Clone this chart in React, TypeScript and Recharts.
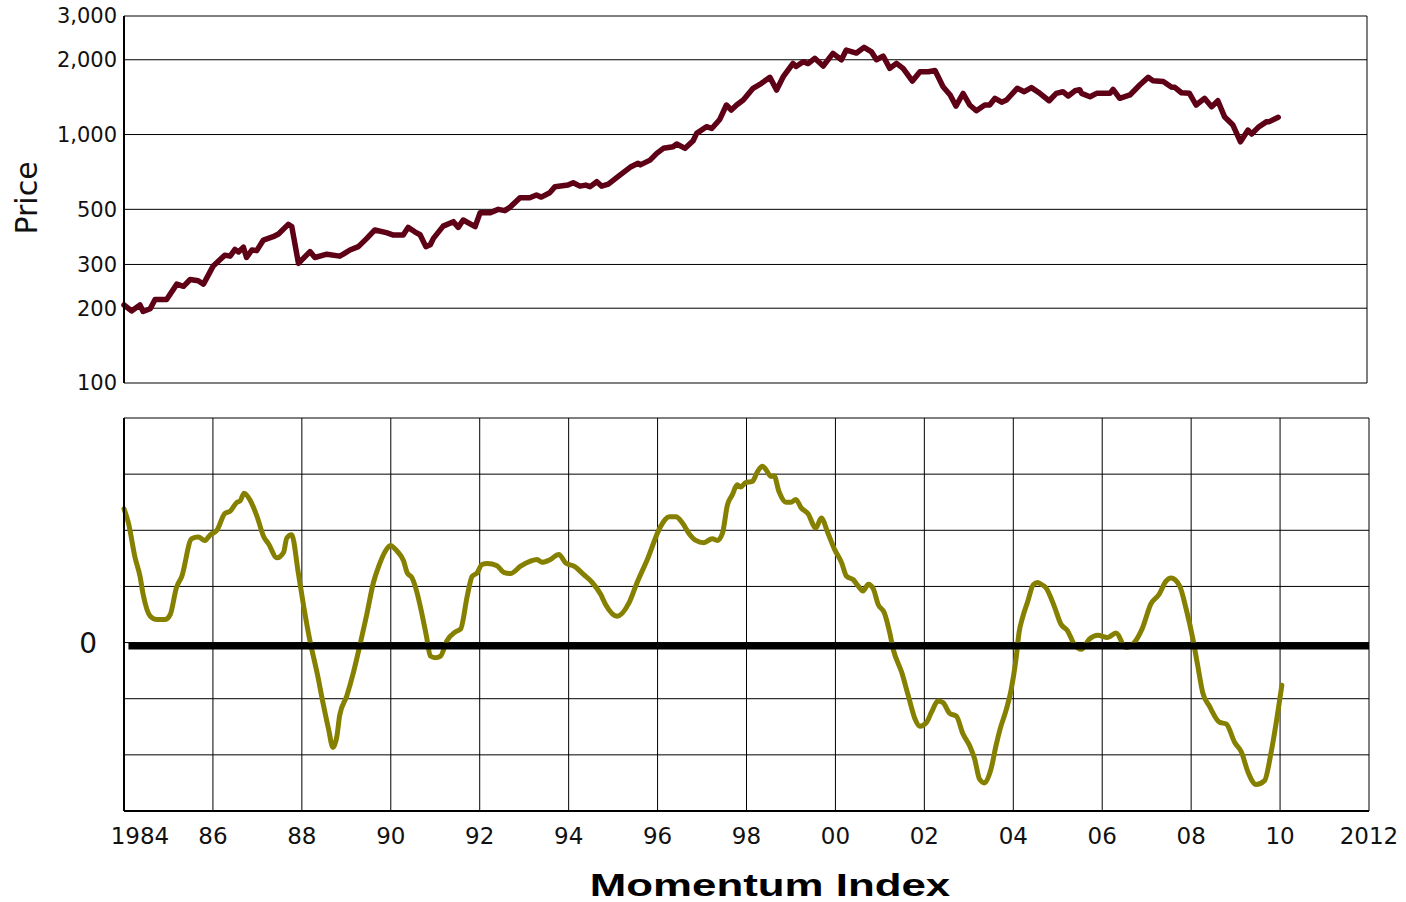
import { LineChart, Line, XAxis, YAxis, CartesianGrid, ReferenceLine } from 'recharts';

// price (log scale)
const priceYears = [
  1984.0, 1984.17, 1984.36, 1984.43, 1984.59, 1984.7, 1984.96, 1985.19, 1985.34, 1985.49, 1985.67, 1985.79,
  1986.01, 1986.27, 1986.39, 1986.5, 1986.58, 1986.69, 1986.76, 1986.88, 1986.99, 1987.14, 1987.36, 1987.48,
  1987.7, 1987.78, 1987.93, 1988.19, 1988.3, 1988.57, 1988.86, 1988.94, 1989.09, 1989.28, 1989.47, 1989.65,
  1989.91, 1990.07, 1990.29, 1990.4, 1990.55, 1990.67, 1990.8, 1990.9, 1990.97, 1991.19, 1991.42, 1991.53,
  1991.64, 1991.91, 1992.02, 1992.24, 1992.43, 1992.58, 1992.69, 1992.92, 1993.14, 1993.29, 1993.4, 1993.59,
  1993.71, 1994.0, 1994.12, 1994.27, 1994.4, 1994.5, 1994.65, 1994.76, 1994.91, 1995.17, 1995.4, 1995.58,
  1995.63, 1995.85, 1996.0, 1996.15, 1996.37, 1996.45, 1996.64, 1996.82, 1996.9, 1997.12, 1997.24, 1997.42,
  1997.57, 1997.68, 1997.8, 1997.95, 1998.17, 1998.36, 1998.55, 1998.7, 1998.85, 1999.07, 1999.14, 1999.3,
  1999.41, 1999.56, 1999.75, 1999.97, 2000.16, 2000.27, 2000.5, 2000.67, 2000.84, 2000.95, 2001.1, 2001.25,
  2001.4, 2001.55, 2001.76, 2001.93, 2002.12, 2002.27, 2002.45, 2002.61, 2002.74, 2002.9, 2003.05, 2003.2,
  2003.39, 2003.5, 2003.62, 2003.77, 2003.88, 2004.12, 2004.28, 2004.44, 2004.63, 2004.84, 2005.0, 2005.15,
  2005.27, 2005.42, 2005.53, 2005.57, 2005.76, 2005.91, 2006.21, 2006.28, 2006.43, 2006.66, 2006.88, 2007.07,
  2007.18, 2007.41, 2007.6, 2007.67, 2007.82, 2008.0, 2008.15, 2008.34, 2008.5, 2008.64, 2008.79, 2008.98,
  2009.15, 2009.32, 2009.4, 2009.55, 2009.74, 2009.8, 2010.0,
];
const priceValues = [
  206, 195, 206, 194, 199, 217, 217, 250, 245, 261, 258, 250,
  296, 327, 324, 345, 337, 352, 320, 343, 341, 376, 388, 398,
  435, 426, 303, 338, 320, 330, 324, 330, 343, 354, 382, 413,
  403, 394, 394, 423, 406, 395, 354, 360, 382, 428, 446, 423,
  453, 426, 484, 484, 500, 494, 509, 557, 557, 571, 560, 583,
  617, 626, 640, 620, 626, 617, 646, 620, 632, 687, 738, 766,
  755, 789, 840, 880, 893, 916, 880, 944, 1011, 1075, 1058, 1150,
  1315, 1255, 1315, 1377, 1535, 1607, 1699, 1511, 1710, 1934, 1880, 1964,
  1930, 2027, 1887, 2122, 1999, 2188, 2128, 2244, 2150, 2000, 2070, 1846,
  1934, 1846, 1641, 1790, 1790, 1810, 1557, 1443, 1302, 1463, 1315, 1247,
  1315, 1315, 1399, 1350, 1377, 1535, 1487, 1545, 1465, 1368, 1465, 1487,
  1429, 1500, 1515, 1465, 1420, 1465, 1465, 1520, 1399, 1443, 1582, 1699,
  1647, 1634, 1549, 1549, 1473, 1465, 1315, 1399, 1294, 1368, 1180, 1092,
  935, 1042, 1005, 1069, 1127, 1127, 1173,
];

// momentum index, bottom panel
const momentumYears = [
  1984.0, 1984.1, 1984.25, 1984.36, 1984.43, 1984.59, 1984.74, 1984.92, 1985.04, 1985.18, 1985.3, 1985.52,
  1985.67, 1985.82, 1985.94, 1986.09, 1986.27, 1986.39, 1986.54, 1986.61, 1986.7, 1986.84, 1986.99, 1987.14,
  1987.25, 1987.44, 1987.59, 1987.66, 1987.77, 1987.92, 1988.04, 1988.19, 1988.34, 1988.49, 1988.6, 1988.7,
  1988.79, 1988.85, 1989.01, 1989.16, 1989.31, 1989.46, 1989.61, 1989.73, 1989.88, 1989.99, 1990.14, 1990.29,
  1990.37, 1990.48, 1990.59, 1990.69, 1990.8, 1990.89, 1991.0, 1991.12, 1991.26, 1991.45, 1991.57, 1991.72,
  1991.83, 1991.94, 1992.05, 1992.17, 1992.39, 1992.54, 1992.69, 1992.92, 1993.14, 1993.29, 1993.4, 1993.59,
  1993.78, 1993.93, 1994.12, 1994.34, 1994.53, 1994.72, 1994.83, 1995.09, 1995.36, 1995.54, 1995.77, 1996.07,
  1996.26, 1996.41, 1996.56, 1996.71, 1996.86, 1997.04, 1997.23, 1997.34, 1997.46, 1997.57, 1997.68, 1997.79,
  1997.87, 1997.98, 1998.13, 1998.25, 1998.36, 1998.43, 1998.55, 1998.62, 1998.73, 1998.89, 1999.0, 1999.11,
  1999.23, 1999.38, 1999.56, 1999.68, 1999.83, 1999.98, 2000.14, 2000.25, 2000.4, 2000.51, 2000.62, 2000.74,
  2000.85, 2000.96, 2001.1, 2001.22, 2001.3, 2001.49, 2001.64, 2001.79, 2001.9, 2002.05, 2002.16, 2002.31,
  2002.42, 2002.57, 2002.72, 2002.87, 2003.02, 2003.13, 2003.24, 2003.35, 2003.5, 2003.61, 2003.7, 2003.84,
  2003.95, 2004.06, 2004.13, 2004.21, 2004.32, 2004.45, 2004.55, 2004.62, 2004.73, 2004.92, 2005.07, 2005.22,
  2005.37, 2005.53, 2005.71, 2005.9, 2006.12, 2006.31, 2006.53, 2006.72, 2006.91, 2007.09, 2007.28, 2007.43,
  2007.55, 2007.74, 2007.89, 2008.04, 2008.15, 2008.26, 2008.41, 2008.64, 2008.79, 2008.98, 2009.13, 2009.28,
  2009.46, 2009.65, 2009.8, 2009.95, 2010.04,
];
const momentumValues = [
  2.38, 2.13, 1.51, 1.18, 0.86, 0.47, 0.41, 0.41, 0.5, 0.98, 1.18, 1.85,
  1.88, 1.82, 1.92, 2.0, 2.3, 2.34, 2.5, 2.52, 2.66, 2.53, 2.25, 1.89,
  1.76, 1.51, 1.61, 1.86, 1.92, 1.24, 0.65, 0.0, -0.53, -1.13, -1.54, -1.87,
  -1.66, -1.3, -0.95, -0.53, -0.03, 0.5, 1.07, 1.36, 1.63, 1.73, 1.63, 1.45,
  1.24, 1.15, 0.89, 0.55, 0.12, -0.24, -0.27, -0.24, 0.03, 0.19, 0.24, 0.83,
  1.18, 1.24, 1.39, 1.41, 1.37, 1.25, 1.23, 1.36, 1.45, 1.48, 1.43, 1.48,
  1.57, 1.42, 1.36, 1.21, 1.07, 0.86, 0.68, 0.47, 0.71, 1.07, 1.48, 2.07,
  2.24, 2.24, 2.13, 1.94, 1.82, 1.78, 1.85, 1.82, 1.95, 2.45, 2.63, 2.81,
  2.77, 2.85, 2.87, 3.05, 3.14, 3.09, 2.96, 2.97, 2.69, 2.5, 2.5, 2.55,
  2.4, 2.3, 2.04, 2.22, 1.95, 1.66, 1.42, 1.18, 1.12, 1.01, 0.92, 1.04,
  0.96, 0.68, 0.53, 0.18, -0.12, -0.53, -0.95, -1.36, -1.49, -1.42, -1.24, -1.04,
  -1.07, -1.26, -1.31, -1.63, -1.84, -2.07, -2.43, -2.5, -2.25, -1.84, -1.55, -1.2,
  -0.85, -0.3, 0.18, 0.45, 0.72, 1.03, 1.07, 1.04, 0.98, 0.65, 0.33, 0.21,
  -0.03, -0.12, 0.06, 0.13, 0.09, 0.17, -0.09, 0.0, 0.27, 0.68, 0.86, 1.09,
  1.15, 1.01, 0.59, 0.06, -0.42, -0.89, -1.13, -1.42, -1.45, -1.78, -1.95, -2.31,
  -2.53, -2.46, -1.95, -1.24, -0.76,
];

const yearTicks = [1984, 1986, 1988, 1990, 1992, 1994, 1996, 1998, 2000, 2002, 2004, 2006, 2008, 2010, 2012];
const priceTicks = [100, 200, 300, 500, 1000, 2000, 3000];
const momentumTicks = [-3, -2, -1, 0, 1, 2, 3, 4];
const zeroLevel = -0.06;

const priceData = priceYears.map((year, i) => ({ year, price: priceValues[i] }));
const momentumData = momentumYears.map((year, i) => ({ year, momentum: momentumValues[i] }));

const FONT = '"DejaVu Sans", sans-serif';

const YearTick = (props: any) => {
  const { x, y, payload } = props;
  const v = payload.value as number;
  const label = v === 1984 || v === 2012 ? String(v) : String(v % 100).padStart(2, '0');
  return (
    <text x={x + (v === 1984 ? 16 : 0)} y={y + 33} textAnchor="middle" fontFamily={FONT} fontSize={23} fill="#111">
      {label}
    </text>
  );
};

export default function App() {
  return (
    <div style={{ position: 'absolute', left: 0, top: 0, width: 1406, height: 902, background: '#fff', fontFamily: FONT }}>
      <div style={{ position: 'absolute', left: 0, top: 0 }}>
        <LineChart width={1406} height={400} data={priceData} margin={{ top: 16, right: 39, bottom: 17, left: 0 }}>
          <CartesianGrid stroke="#000" strokeWidth={1} />
          <XAxis
            dataKey="year"
            type="number"
            domain={[1984, 2012]}
            ticks={yearTicks}
            interval={0}
            height={0}
            tick={false}
            tickLine={false}
            axisLine={{ stroke: '#000', strokeWidth: 2 }}
          />
          <YAxis
            type="number"
            scale="log"
            domain={[100, 3000]}
            ticks={priceTicks}
            interval={0}
            allowDataOverflow
            width={124}
            tickLine={false}
            tickSize={0}
            tickMargin={7}
            axisLine={{ stroke: '#000', strokeWidth: 2 }}
            tick={{ fontSize: 21, fill: '#111', fontFamily: FONT }}
            tickFormatter={(v: number) => v.toLocaleString('en-US')}
          />
          <Line
            dataKey="price"
            type="linear"
            stroke="#5e0016"
            strokeWidth={5.5}
            strokeLinejoin="round"
            strokeLinecap="round"
            dot={false}
            isAnimationActive={false}
          />
        </LineChart>
      </div>

      <div style={{ position: 'absolute', left: 0, top: 400 }}>
        <LineChart width={1406} height={502} data={momentumData} margin={{ top: 18, right: 37, bottom: 51, left: 0 }}>
          <CartesianGrid stroke="#000" strokeWidth={1} />
          <XAxis
            dataKey="year"
            type="number"
            domain={[1984, 2012]}
            ticks={yearTicks}
            interval={0}
            height={40}
            tickLine={false}
            tickSize={0}
            tickMargin={0}
            axisLine={{ stroke: '#000', strokeWidth: 2 }}
            tick={YearTick}
          />
          <YAxis
            type="number"
            domain={[-3, 4]}
            ticks={momentumTicks}
            interval={0}
            width={124}
            tickLine={false}
            tickSize={0}
            tickMargin={27}
            axisLine={{ stroke: '#000', strokeWidth: 2 }}
            tick={{ fontSize: 28, fill: '#111', fontFamily: FONT }}
            tickFormatter={(v: number) => (v === 0 ? '0' : '')}
          />
          <Line
            dataKey="momentum"
            type="monotone"
            stroke="#858000"
            strokeWidth={5}
            strokeLinejoin="round"
            strokeLinecap="round"
            dot={false}
            isAnimationActive={false}
          />
          <ReferenceLine
            segment={[{ x: 1984.1, y: zeroLevel }, { x: 2012, y: zeroLevel }]}
            stroke="#000"
            strokeWidth={7}
          />
        </LineChart>
      </div>

      <div
        style={{
          position: 'absolute',
          left: 27,
          top: 198,
          transform: 'translate(-50%, -50%) rotate(-90deg)',
          fontSize: 30,
          lineHeight: 1,
          color: '#111',
          whiteSpace: 'nowrap',
        }}
      >
        Price
      </div>

      <div
        style={{
          position: 'absolute',
          left: 770,
          top: 869,
          transform: 'translateX(-50%) scaleX(1.37)',
          fontFamily: '"Liberation Sans", Arial, sans-serif',
          fontWeight: 'bold',
          fontSize: 32,
          lineHeight: 1,
          color: '#000',
          whiteSpace: 'nowrap',
        }}
      >
        Momentum Index
      </div>
    </div>
  );
}
